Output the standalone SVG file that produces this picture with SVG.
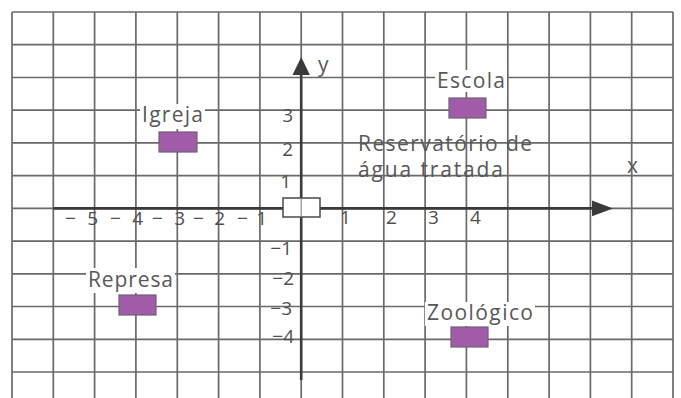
<svg xmlns="http://www.w3.org/2000/svg" width="681" height="398" viewBox="0 0 681 398">
<defs>
<style>
.grid{stroke:#6a6a6a;stroke-width:1.7;fill:none}
.axis{stroke:#3a3a3a;stroke-width:2.6;fill:none}
.lbl{font-family:"Open Sans","Noto Sans",sans-serif;font-size:21px;fill:#585858}
.num{font-family:"Open Sans","Noto Sans",sans-serif;font-size:19px;fill:#505050}
.place{fill:#a05ca8;stroke:#6f5f74;stroke-width:1.2}
.bg{fill:#fff}
</style>
</defs>
<rect x="0" y="0" width="681" height="398" fill="#fff"/>
<g id="grid" class="grid">
<path d="M12,12V398M53.3,12V398M94.6,12V398M135.9,12V398M177.3,12V398M218.6,12V398M259.9,12V398M301.2,12V398M342.5,12V398M383.8,12V398M425.1,12V398M466.4,12V398M507.8,12V398M549.1,12V398M590.4,12V398M631.7,12V398M673,12V398"/>
<path d="M12,12H673M12,44.7H673M12,77.5H673M12,110.2H673M12,142.9H673M12,175.6H673M12,208.4H673M12,241.1H673M12,273.8H673M12,306.5H673M12,339.3H673M12,372H673"/>
</g>
<g id="connectors">
<path class="axis" d="M53.3,208.4H596"/>
<polygon points="613,208.4 592,200.5 592,216.3" fill="#3a3a3a"/>
<path class="axis" d="M301.2,380V72"/>
<polygon points="301.2,57 292.5,75 309.9,75" fill="#3a3a3a"/>
</g>
<g id="origin">
<rect x="283" y="198" width="37" height="19" fill="#fff" stroke="#4a4a4a" stroke-width="1.5"/>
<line x1="301.2" y1="198" x2="301.2" y2="217" stroke="#777" stroke-width="1"/>
</g>
<g id="axis-labels">
<text class="lbl" x="318" y="72">y</text>
<text class="lbl" x="627" y="173">x</text>
<text class="num" x="65" y="225" textLength="33" lengthAdjust="spacing">−5</text>
<text class="num" x="110" y="225" textLength="33" lengthAdjust="spacing">−4</text>
<text class="num" x="152" y="225" textLength="33" lengthAdjust="spacing">−3</text>
<text class="num" x="193" y="225" textLength="32" lengthAdjust="spacing">−2</text>
<text class="num" x="237" y="225" textLength="30" lengthAdjust="spacing">−1</text>
<text class="num" x="340" y="224">1</text>
<text class="num" x="386" y="224">2</text>
<text class="num" x="428" y="224">3</text>
<text class="num" x="470" y="224">4</text>
<text class="num" x="293" y="122" text-anchor="end">3</text>
<text class="num" x="293" y="156" text-anchor="end">2</text>
<text class="num" x="291" y="188" text-anchor="end">1</text>
<text class="num" x="292" y="255" text-anchor="end">−1</text>
<text class="num" x="294" y="285" text-anchor="end">−2</text>
<text class="num" x="292" y="315" text-anchor="end">−3</text>
<text class="num" x="294" y="343" text-anchor="end">−4</text>
</g>
<g id="igreja">
<rect class="bg" x="140" y="104" width="65" height="25"/>
<text class="lbl" x="142" y="122" textLength="61" lengthAdjust="spacing">Igreja</text>
<rect class="place" x="159" y="132" width="38" height="20"/>
</g>
<g id="escola">
<rect class="bg" x="435" y="70" width="72" height="22"/>
<text class="lbl" x="437" y="88" textLength="68" lengthAdjust="spacing">Escola</text>
<rect class="place" x="449" y="98" width="37" height="20"/>
</g>
<g id="reservatorio">
<text class="lbl" x="358" y="151" textLength="174" lengthAdjust="spacing">Reservatório de</text>
<text class="lbl" x="358" y="177" textLength="145" lengthAdjust="spacing">água tratada</text>
</g>
<g id="represa">
<rect class="bg" x="86" y="268" width="89" height="25"/>
<text class="lbl" x="88" y="287" textLength="85" lengthAdjust="spacing">Represa</text>
<rect class="place" x="119" y="295" width="37" height="20"/>
</g>
<g id="zoologico">
<rect class="bg" x="425" y="302" width="110" height="24"/>
<text class="lbl" x="427" y="320" textLength="106" lengthAdjust="spacing">Zoológico</text>
<rect class="place" x="451" y="327" width="37" height="20"/>
</g>
</svg>
